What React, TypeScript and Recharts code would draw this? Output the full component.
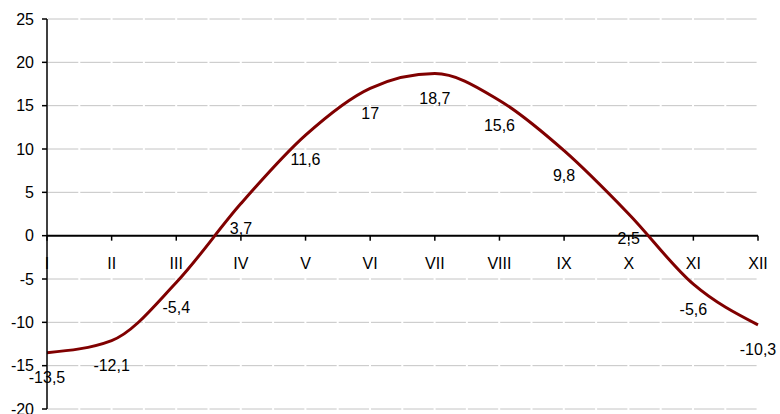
import React from "react"
import {
  LineChart,
  Line,
  XAxis,
  YAxis,
  CartesianGrid,
  ReferenceLine,
  ReferenceDot,
  LabelList,
} from "recharts"

// monthly mean temperature
const months = ["I", "II", "III", "IV", "V", "VI", "VII", "VIII", "IX", "X", "XI", "XII"]
const temps = [-13.5, -12.1, -5.4, 3.7, 11.6, 17, 18.7, 15.6, 9.8, 2.5, -5.6, -10.3]
const yTicks = [-20, -15, -10, -5, 0, 5, 10, 15, 20, 25]

const data = months.map((m, i) => ({ month: m, temp: temps[i] }))

const fmt = (v: any) => String(v).replace(".", ",")

// tick + roman numeral drawn on the zero line
const MonthTick = (props: any) => {
  const { cx, cy, label } = props
  return (
    <g>
      <line x1={cx} y1={cy} x2={cx} y2={cy + 5} stroke="#000" strokeWidth={1.5} />
      <text x={cx} y={cy + 33} textAnchor="middle" fontSize={16} fill="#000">
        {label}
      </text>
    </g>
  )
}

export default function App() {
  return (
    <div style={{ position: "absolute", left: 0, top: 0, fontFamily: "'Liberation Sans', Arial, sans-serif" }}>
      <LineChart width={780} height={414} data={data} margin={{ top: 19, right: 22, bottom: 5, left: 0 }}>
        <CartesianGrid
          vertical={false}
          stroke="#c4c4c4"
          strokeDasharray="30.3 2"
          strokeDashoffset={31.3}
        />
        <XAxis dataKey="month" hide />
        <YAxis
          width={47}
          domain={[-20, 25]}
          ticks={yTicks}
          interval={0}
          tickSize={5}
          tickMargin={8}
          tick={{ fill: "#000", fontSize: 16 }}
          axisLine={{ stroke: "#000", strokeWidth: 1.5 }}
          tickLine={{ stroke: "#000", strokeWidth: 1.5 }}
        />
        <ReferenceLine y={0} stroke="#000" strokeWidth={2} />
        {months.map((m) => (
          <ReferenceDot key={m} x={m} y={0} r={0} shape={(p: any) => <MonthTick {...p} label={m} />} />
        ))}
        <Line
          type="monotone"
          dataKey="temp"
          stroke="#800000"
          strokeWidth={3}
          dot={false}
          isAnimationActive={false}
        >
          <LabelList dataKey="temp" position="bottom" offset={19} formatter={fmt} fill="#000" fontSize={16} />
        </Line>
      </LineChart>
    </div>
  )
}
